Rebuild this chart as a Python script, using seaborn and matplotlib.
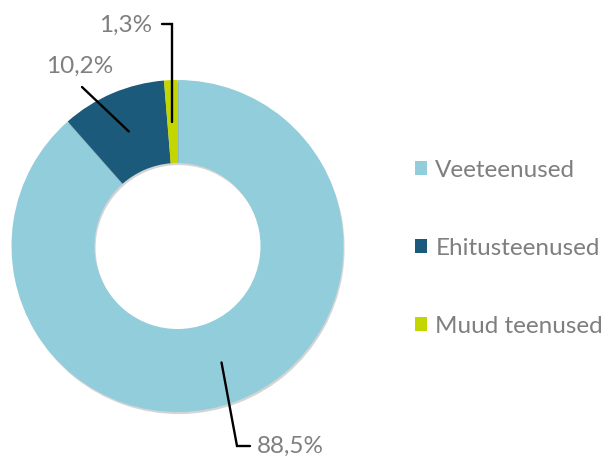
import numpy as np
import matplotlib
matplotlib.use("Agg")
import matplotlib.pyplot as plt
import matplotlib.patheffects as pe
import seaborn as sns

categories = ["Veeteenused", "Ehitusteenused", "Muud teenused"]
values = [88.5, 10.2, 1.3]
value_labels = ["88,5%", "10,2%", "1,3%"]
colors = ["#92CDDC", "#1B5A7A", "#C4D600"]

sns.set_theme(style="white")
plt.rcParams["font.family"] = ["Lato", "DejaVu Sans"]

W, H = 609, 457
fig = plt.figure(figsize=(W / 100, H / 100), dpi=100)
ax = fig.add_axes([0, 0, 1, 1])

cx, cy = 177.5, H - 246
R_out, R_in = 166, 83
wedges, _ = ax.pie(values, colors=colors, startangle=90, counterclock=False,
                   radius=R_out, center=(cx, cy),
                   wedgeprops=dict(width=R_out - R_in, linewidth=0))
for w in wedges:
    w.set_path_effects([pe.SimplePatchShadow(offset=(0.8, -1.5), shadow_rgbFace="#555555", alpha=0.25),
                        pe.Normal()])

ax.set_xlim(0, W)
ax.set_ylim(0, H)
ax.set_aspect("equal")
ax.axis("off")

grey = "#7F7F7F"
fs = 17.5
r_mid = (R_out + R_in) / 2

def anchor(i):
    w = wedges[i]
    ang = np.deg2rad((w.theta1 + w.theta2) / 2)
    return cx + r_mid * np.cos(ang), cy + r_mid * np.sin(ang)

lw = 1.7
# Veeteenused (88,5%)
ax0, ay0 = anchor(0)
ax.plot([ax0, 237, 250], [ay0, H - 446, H - 446], color="black", lw=lw, solid_joinstyle="miter")
ax.text(257, H - 446, value_labels[0], color=grey, fontsize=fs, ha="left", va="center")
# Ehitusteenused (10,2%)
ax1, ay1 = anchor(1)
ax.plot([ax1, 82], [ay1, H - 87], color="black", lw=lw)
ax.text(80, H - 66, value_labels[1], color=grey, fontsize=fs, ha="center", va="center")
# Muud teenused (1,3%)
ax2, ay2 = anchor(2)
ax.plot([ax2, ax2, 162], [ay2, H - 24, H - 24], color="black", lw=lw, solid_joinstyle="miter")
ax.text(152, H - 25, value_labels[2], color=grey, fontsize=fs, ha="right", va="center")

leg = ax.legend(wedges, categories, loc="upper left", bbox_to_anchor=(405 / W, 1 - 150 / H),
                frameon=False, fontsize=fs, labelcolor=grey, handlelength=0.5, handleheight=0.5,
                handletextpad=0.35, labelspacing=2.35, borderaxespad=0)
for h in leg.legend_handles:
    h.set_path_effects([])

fig.savefig("out.png", dpi=100)
